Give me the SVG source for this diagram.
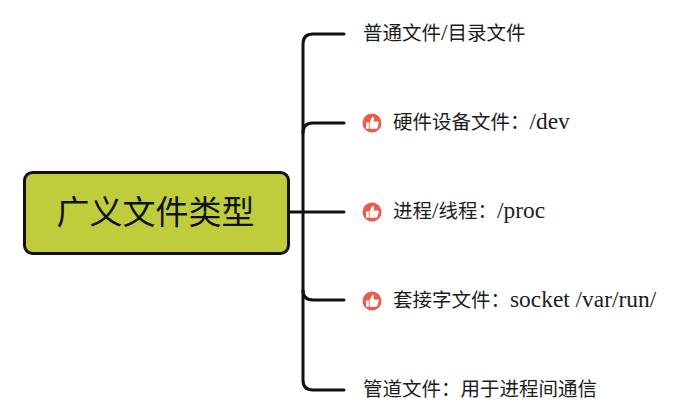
<svg xmlns="http://www.w3.org/2000/svg" width="700" height="420" viewBox="0 0 700 420">
<style>
.c{fill:none;stroke:#111;stroke-width:3;stroke-linecap:round}
.t{font-family:"Noto Sans CJK SC",sans-serif;font-size:19.5px;fill:#1c1c1c}
.l{font-family:"Liberation Serif",serif;font-size:23.4px}
.i{fill:#ee5a4d}
.h{fill:#fff}
</style>
<defs>
<g id="thumb"><circle class="i" cx="0" cy="0" r="9.5"/><path class="h" d="M-6-.5h2.8v6.3H-6zM-2.400-.8 .2-6c1.400-.4 2.300.7 1.800 2.200L1.500-1.500H5.400c1 0 1.500.8 1.300 1.600L5.400 4.800c-.2.700-.8 1-1.500 1H-2.400z"/></g>
</defs>
<rect width="700" height="420" fill="#fff"/>
<g id="connectors">
<path class="c" d="M289 212H344"/>
<path class="c" d="M344 34H313Q303 34 303 44V380Q303 390 313 390H344"/>
<path class="c" d="M303 133Q303 123 313 123H344"/>
<path class="c" d="M303 290Q303 300 313 300H344"/>
</g>
<g id="root"><rect x="24.500" y="172.500" width="264" height="81" rx="8" fill="#bfcc3c" stroke="#111" stroke-width="3"/>
<text x="155.500" y="224" text-anchor="middle" font-family="'Noto Sans CJK SC',sans-serif" font-size="33" fill="#111">广义文件类型</text></g>
<g id="n1"><text class="t" x="363" y="40">普通文件<tspan class="l">/</tspan>目录文件</text></g>
<g id="n2"><use href="#thumb" x="372" y="123"/><text class="t" x="393" y="129">硬件设备文件：<tspan class="l">/dev</tspan></text></g>
<g id="n3"><use href="#thumb" x="372" y="212"/><text class="t" x="393" y="218">进程<tspan class="l">/</tspan>线程：<tspan class="l">/proc</tspan></text></g>
<g id="n4"><use href="#thumb" x="372" y="301"/><text class="t" x="393" y="307">套接字文件：<tspan class="l">socket /var/run/</tspan></text></g>
<g id="n5"><text class="t" x="363" y="396">管道文件：用于进程间通信</text></g>
</svg>
